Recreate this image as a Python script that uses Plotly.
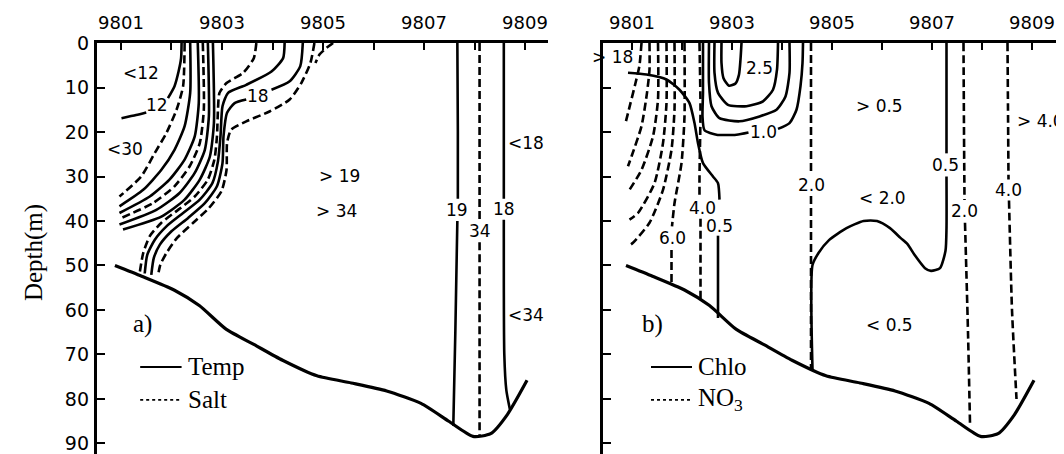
import plotly.graph_objects as go

# ---------------- axes / ticks ----------------
label_stations = [9801, 9803, 9805, 9807, 9809]
label_text = ["9801", "9803", "9805", "9807", "9809"]
minor_stations = [9802, 9804, 9806, 9808]
depth_ticks = list(range(0, 100, 10))

# ---------------- sea bottom (shared by both panels) ----------------
bottom_s = [9800.88, 9801.41, 9802.05, 9802.55, 9803.08, 9803.64, 9804.20, 9804.88,
            9805.56, 9806.26, 9806.94, 9807.49, 9807.97, 9808.32, 9808.65, 9809.04]
bottom_d = [50.0, 52.4, 55.5, 59.0, 64.3, 67.8, 71.3, 74.8,
            76.4, 78.2, 81.0, 85.0, 88.4, 87.8, 83.5, 75.8]

# ---------------- panel a) temperature (solid) ----------------
t12_s = [9801.01, 9801.30, 9801.50, None, 9801.93, 9802.06, 9802.14, 9802.19, 9802.20]
t12_d = [16.9, 16.2, 15.6, None, 12.4, 9.7, 6.4, 3.4, 0]
tL1_s = [9802.37, 9802.37, 9802.26, 9802.06, 9801.80, 9801.44, 9800.97]
tL1_d = [0, 11.2, 18.7, 24.0, 28.5, 33.0, 36.7]
tL2_s = [9802.52, 9802.54, 9802.46, 9802.26, 9801.96, 9801.57, 9800.97]
tL2_d = [0, 13.5, 21.0, 26.2, 30.7, 34.5, 38.2]
tL4_s = [9802.72, 9802.74, 9802.66, 9802.46, 9802.16, 9801.70, 9800.97]
tL4_d = [0, 16.5, 24.0, 29.2, 33.7, 37.5, 40.8]
tL5_s = [9802.82, 9802.84, 9802.76, 9802.56, 9802.26, 9801.80, 9801.04]
tL5_d = [0, 18.0, 25.5, 30.7, 35.2, 39.0, 41.9]
tB2_s = [9804.24, 9804.21, 9803.98, 9803.48, 9803.12, 9803.01, 9802.97, 9802.92,
         9802.81, 9802.56, 9802.23, 9801.90, 9801.67, 9801.52, 9801.47]
tB2_d = [0, 3.4, 6.4, 9.4, 11.2, 14.2, 21.0, 26.6, 31.5, 35.2, 38.2, 41.2, 44.2, 47.6, 51.8]
tB3_s = [9804.60, 9804.55, 9804.34, 9803.98, None, 9803.48, 9803.25, 9803.10, 9803.03,
         9803.01, 9802.90, 9802.66, 9802.33, 9802.00, 9801.77, 9801.65, 9801.60]
tB3_d = [0, 5.2, 8.6, 10.5, None, 12.7, 13.5, 15.7, 21.0, 27.0, 32.2, 36.0, 39.3,
         42.3, 45.3, 48.3, 52.1]
t19_s = [9807.66, 9807.67, 9807.67, None, 9807.66, 9807.62, 9807.58]
t19_d = [0, 20, 35.0, None, 40.0, 65, 86]
t18_s = [9808.58, 9808.58, None, 9808.58, 9808.59, 9808.63, 9808.70]
t18_d = [0, 35.0, None, 39.7, 70, 78, 82.3]

# ---------------- panel a) salinity (dashed) ----------------
sL0_s = [9802.26, 9802.23, 9802.10, 9801.90, 9801.67, 9801.40, 9800.97]
sL0_d = [0, 9.7, 15.0, 20.2, 24.7, 30.0, 34.5]
sL3_s = [9802.62, 9802.64, 9802.56, 9802.36, 9802.06, 9801.63, 9801.01]
sL3_d = [0, 15.0, 22.5, 27.7, 32.2, 36.0, 39.3]
sB1_s = [9803.68, 9803.63, 9803.42, 9803.09, 9802.95, 9802.92, 9802.90, 9802.85,
         9802.72, 9802.46, 9802.13, 9801.80, 9801.57, 9801.44, 9801.37]
sB1_d = [0, 3.4, 6.7, 9.0, 11.2, 15.0, 21.0, 26.2, 30.7, 34.5, 37.5, 40.4, 43.4, 47.2, 51.7]
sB4_s = [9804.83, 9804.75, 9804.57, 9804.34, 9803.94, 9803.48, 9803.18, 9803.10,
         9803.09, 9802.99, 9802.74, 9802.43, 9802.11, 9801.90, 9801.78, 9801.73]
sB4_d = [0, 4.5, 9.0, 12.7, 15.4, 17.6, 19.5, 22.5, 28.5, 33.3, 37.1, 40.4, 43.8,
         47.2, 49.8, 52.4]
sCurl_s = [9805.20, 9805.07, 9804.93, 9804.85]
sCurl_d = [0, 1.1, 2.6, 4.5]
s34_s = [9808.10, 9808.10, None, 9808.10, 9808.10]
s34_d = [0, 39.6, None, 44.8, 88.3]

# ---------------- panel b) chlorophyll (solid) ----------------
c05a_s = [9800.92, 9801.29, 9801.69, 9801.95, 9802.15, 9802.25, 9802.32, 9802.42,
          9802.62, 9802.72, 9802.75]
c05a_d = [6.7, 7.1, 8.2, 10.5, 13.5, 18.0, 22.5, 27.0, 30.0, 31.5, 35.2]
c05b_s = [9802.72, 9802.72]
c05b_d = [43.3, 61.8]
c25_s = [9802.79, 9802.79, 9802.83, 9802.94, 9803.07, 9803.14, 9803.17, 9803.19]
c25_d = [0, 4.5, 7.9, 9.6, 9.1, 7.1, 3.7, 0]
c20_s = [9802.65, 9802.65, 9802.72, 9802.92, 9803.29, 9803.62, 9803.82, 9803.90, 9803.92]
c20_d = [0, 6.7, 11.2, 13.9, 14.2, 13.1, 10.5, 6.0, 0]
c15_s = [9802.54, 9802.54, 9802.59, 9802.75, 9803.15, 9803.55, 9803.89, 9804.07, 9804.15, 9804.15]
c15_d = [0, 9.0, 14.2, 16.9, 17.6, 16.5, 15.0, 12.0, 6.7, 0]
c10_s = [9802.42, 9802.42, 9802.41, 9802.45, 9802.69, 9803.09, 9803.33, None,
         9803.92, 9804.15, 9804.29, 9804.37, 9804.41, 9804.42]
c10_d = [0, 11.2, 16.5, 19.6, 20.6, 20.6, 20.1, None, 19.3, 18.0, 15.0, 9.7, 4.5, 0]
c05c_s = [9804.61, 9804.61, 9804.73, 9804.94, 9805.29, 9805.63, 9805.90, 9806.16,
          9806.37, 9806.51, 9806.65, 9806.86, 9806.98, 9807.16, 9807.27, 9807.29,
          9807.29, None, 9807.29, 9807.29]
c05c_d = [73.3, 49.9, 47.2, 44.3, 41.6, 40.0, 40.0, 41.6, 43.8, 45.2, 47.6, 50.6,
          51.2, 50.6, 46.7, 41.6, 30.0, None, 24.8, 0]

# ---------------- panel b) nitrate (dashed) ----------------
n1_s = [9801.19, 9801.15, 9801.07, 9800.97, 9800.87]
n1_d = [0, 5.0, 9.0, 13.5, 18.0]
n2_s = [9801.35, 9801.35, 9801.30, 9801.19, 9800.99, 9800.92]
n2_d = [0, 6.0, 11.2, 18.7, 25.5, 27.7]
n3_s = [9801.52, 9801.52, 9801.42, 9801.19, 9800.95]
n3_d = [0, 12.7, 21.0, 28.5, 33.0]
n4_s = [9801.69, 9801.69, 9801.62, 9801.45, 9801.12, 9800.95]
n4_d = [0, 13.5, 22.5, 31.5, 38.2, 39.7]
n5_s = [9801.85, 9801.85, 9801.79, 9801.62, 9801.35, 9801.02, 9800.92]
n5_d = [0, 15.0, 24.0, 33.0, 40.4, 44.9, 45.7]
n60_s = [9802.05, 9802.05, 9801.99, 9801.85, 9801.80, None, 9801.79, 9801.79]
n60_d = [0, 16.5, 27.0, 36.0, 41.2, None, 46.5, 54.0]
n40a_s = [9802.35, 9802.37, 9802.35, 9802.35, None, 9802.37, 9802.37]
n40a_d = [0, 15.0, 30.0, 35.0, None, 39.5, 57.5]
n20a_s = [9804.58, 9804.58, None, 9804.58, 9804.58]
n20a_d = [0, 29.6, None, 34.4, 73.3]
n20b_s = [9807.63, 9807.64, 9807.65, None, 9807.66, 9807.72, 9807.76]
n20b_d = [0, 20.0, 35.3, None, 40.4, 65.0, 85.5]
n40b_s = [9808.51, 9808.52, 9808.53, None, 9808.54, 9808.60, 9808.69]
n40b_d = [0, 15.0, 30.7, None, 35.4, 60.0, 80.0]

# ---------------- text labels ----------------
labels_a_text = ["&lt;12", "12", "&lt;30", "18", "&gt; 19", "&gt; 34", "19", "18", "34"]
labels_a_s = [9801.40, 9801.72, 9801.08, 9803.71, 9805.33, 9805.27, 9807.66, 9808.58, 9808.10]
labels_a_d = [6.7, 13.9, 23.8, 12.0, 29.9, 37.8, 37.5, 37.3, 42.2]
edge_a_text = ["&lt;18", "&lt;34"]          # left-anchored, just right of the 18 line
edge_a_s = [9808.62, 9808.62]
edge_a_d = [22.5, 61.1]

labels_b_text = ["2.5", "1.0", "&gt; 0.5", "&lt; 2.0", "2.0", "0.5", "2.0",
                 "4.0", "4.0", "0.5", "6.0", "&lt; 0.5", "&gt; 18"]
labels_b_s = [9803.55, 9803.62, 9805.94, 9806.00, 9804.58, 9807.27,
              9807.65, 9808.53, 9802.40, 9802.75, 9801.80, 9806.14, 9800.60]
labels_b_d = [5.6, 20.0, 14.2, 34.8, 31.9, 27.4, 37.8, 33.0, 37.1, 41.1, 43.8, 63.4, 3.2]
edge_b_text = ["&gt; 4.0"]
edge_b_s = [9808.66]
edge_b_d = [17.5]

SANS = "DejaVu Sans, Arial, sans-serif"
SERIF = "Liberation Serif, Times New Roman, serif"
DASH = "8px,4px"

fig = go.Figure()


def add_line(s, d, dashed, axis, width=2.6):
    xa, ya = ("x", "y") if axis == 1 else ("x2", "y2")
    fig.add_trace(go.Scatter(
        x=s, y=d, mode="lines", xaxis=xa, yaxis=ya, showlegend=False,
        hoverinfo="skip", connectgaps=False,
        line=dict(color="black", width=width, dash=DASH if dashed else "solid",
                  shape="spline", smoothing=0.6)))


# panel a
for s, d in [(t12_s, t12_d), (tL1_s, tL1_d), (tL2_s, tL2_d), (tL4_s, tL4_d),
             (tL5_s, tL5_d), (tB2_s, tB2_d), (tB3_s, tB3_d), (t19_s, t19_d), (t18_s, t18_d)]:
    add_line(s, d, False, 1)
for s, d in [(sL0_s, sL0_d), (sL3_s, sL3_d), (sB1_s, sB1_d), (sB4_s, sB4_d),
             (sCurl_s, sCurl_d), (s34_s, s34_d)]:
    add_line(s, d, True, 1)
add_line(bottom_s, bottom_d, False, 1, width=3.2)

# panel b
for s, d in [(c05a_s, c05a_d), (c05b_s, c05b_d), (c25_s, c25_d), (c20_s, c20_d),
             (c15_s, c15_d), (c10_s, c10_d), (c05c_s, c05c_d)]:
    add_line(s, d, False, 2)
for s, d in [(n1_s, n1_d), (n2_s, n2_d), (n3_s, n3_d), (n4_s, n4_d), (n5_s, n5_d),
             (n60_s, n60_d), (n40a_s, n40a_d), (n20a_s, n20a_d), (n20b_s, n20b_d),
             (n40b_s, n40b_d)]:
    add_line(s, d, True, 2)
add_line(bottom_s, bottom_d, False, 2, width=3.2)

LABEL_FONT = dict(family=SANS, size=17, color="black")
annotations = []
for t, s, d in zip(labels_a_text, labels_a_s, labels_a_d):
    annotations.append(dict(text=t, x=s, y=d, xref="x", yref="y", showarrow=False, font=LABEL_FONT))
for t, s, d in zip(edge_a_text, edge_a_s, edge_a_d):
    annotations.append(dict(text=t, x=s, y=d, xref="x", yref="y", showarrow=False,
                            xanchor="left", font=LABEL_FONT))
for t, s, d in zip(labels_b_text, labels_b_s, labels_b_d):
    annotations.append(dict(text=t, x=s, y=d, xref="x2", yref="y2", showarrow=False, font=LABEL_FONT))
for t, s, d in zip(edge_b_text, edge_b_s, edge_b_d):
    annotations.append(dict(text=t, x=s, y=d, xref="x2", yref="y2", showarrow=False,
                            xanchor="left", font=LABEL_FONT))

# panel tags and in-plot legends
for xr, yr, tag, s0, entries in [("x", "y", "a)", 9801.42, [("Temp", "solid"), ("Salt", "dot")]),
                                 ("x2", "y2", "b)", 9801.40, [("Chlo", "solid"), ("NO<sub>3</sub>", "dot")])]:
    annotations.append(dict(text=tag, x=s0, y=63.2, xref=xr, yref=yr, showarrow=False,
                            font=dict(family=SERIF, size=25, color="black")))
    for i, (name, dash) in enumerate(entries):
        yy = 72.8 + 7.4 * i
        fig.add_shape(type="line", xref=xr, yref=yr, x0=9801.38, x1=9802.20, y0=yy, y1=yy,
                      line=dict(color="black", width=2 if dash == "solid" else 1.8, dash=dash))
        annotations.append(dict(text=name, x=9802.28, y=yy, xref=xr, yref=yr, showarrow=False,
                                xanchor="left", font=dict(family=SERIF, size=25, color="black")))

axis_common = dict(showline=True, linecolor="black", linewidth=3, showgrid=False,
                   zeroline=False, mirror=False)
TOP_FONT = dict(family=SANS, size=18, color="black")
minor_ticks = dict(tickmode="array", tickvals=minor_stations, ticks="inside", ticklen=7,
                   tickwidth=2, tickcolor="black", showgrid=False)
fig.update_layout(
    width=1064, height=454,
    margin=dict(l=0, r=0, t=35, b=0),
    paper_bgcolor="white", plot_bgcolor="white",
    annotations=annotations,
    xaxis=dict(domain=[89 / 1064, 540 / 1064], range=[9800.525, 9809.455], side="top",
               anchor="y", tickvals=label_stations, ticktext=label_text, ticks="inside",
               ticklen=7, tickwidth=2, tickcolor="black", ticklabelstandoff=4,
               minor=minor_ticks, tickfont=TOP_FONT, **axis_common),
    # left depth axis: line + inside ticks only
    yaxis=dict(domain=[0, 1], range=[94.16, 0], anchor="x", tickvals=depth_ticks,
               ticks="inside", ticklen=8, tickwidth=2, tickcolor="black",
               showticklabels=False, **axis_common),
    # overlay axis carrying the depth labels and title, set slightly left of the line
    yaxis3=dict(overlaying="y", anchor="free", position=81 / 1064, side="left",
                range=[94.16, 0], tickvals=depth_ticks, ticks="", showline=False,
                showgrid=False, zeroline=False,
                tickfont=dict(family=SANS, size=19, color="black"),
                title=dict(text="Depth(m)", font=dict(family=SERIF, size=25, color="black"),
                           standoff=14)),
    xaxis2=dict(domain=[595 / 1064, 1.0], range=[9800.42, 9809.8], side="top",
                anchor="y2", tickvals=label_stations, ticktext=label_text, ticks="inside",
                ticklen=7, tickwidth=2, tickcolor="black", ticklabelstandoff=4,
                minor=minor_ticks, tickfont=TOP_FONT, **axis_common),
    yaxis2=dict(domain=[0, 1], range=[94.16, 0], anchor="x2", tickvals=depth_ticks,
                ticks="inside", ticklen=8, tickwidth=2, tickcolor="black",
                showticklabels=False, **axis_common),
)
# an invisible trace so the label axis is drawn
fig.add_trace(go.Scatter(x=[None], y=[None], xaxis="x", yaxis="y3", showlegend=False,
                         hoverinfo="skip", mode="lines"))

fig.write_html("out.html")
